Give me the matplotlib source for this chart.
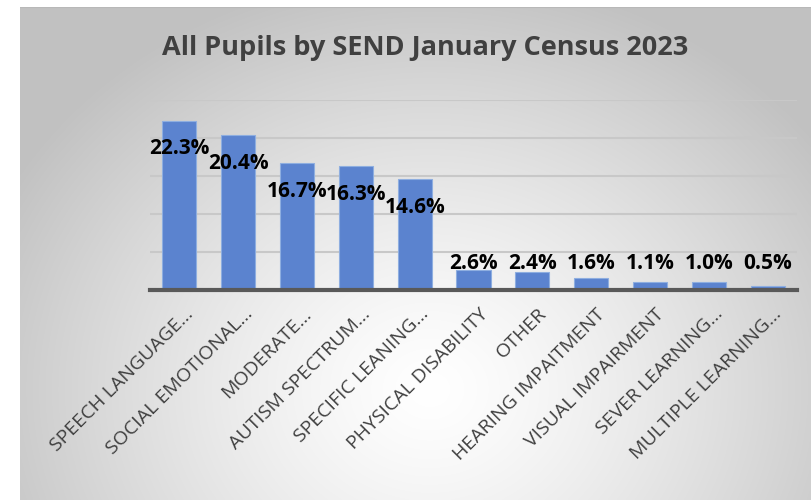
import numpy as np
import matplotlib.pyplot as plt
import matplotlib.transforms as mtransforms

categories = ["SPEECH LANGUAGE...", "SOCIAL EMOTIONAL...", "MODERATE...",
              "AUTISM SPECTRUM...", "SPECIFIC LEANING...", "PHYSICAL DISABILITY",
              "OTHER", "HEARING IMPAITMENT", "VISUAL IMPAIRMENT",
              "SEVER LEARNING...", "MULTIPLE LEARNING..."]
values = [22.3, 20.4, 16.7, 16.3, 14.6, 2.6, 2.4, 1.6, 1.1, 1.0, 0.5]

W, H = 811, 500
fig = plt.figure(figsize=(W / 100, H / 100), dpi=100)
fig.patch.set_facecolor("white")

# radial grey background of the chart frame
bg = fig.add_axes([20 / W, 0, 1 - 20 / W, 1 - 7 / H], zorder=0)
gx, gy = np.meshgrid(np.linspace(20, W, 400), np.linspace(7, H, 300))
r = np.sqrt((gx - 430) ** 2 + ((gy - 390) * 1.15) ** 2) / 480
r = np.clip(r, 0, 1)
shade = 1.0 - 0.24 * r ** 1.3
bg.imshow(np.dstack([shade] * 3), extent=[0, 1, 0, 1], aspect="auto",
          interpolation="bilinear")
bg.set_axis_off()
bg.plot([0, 1], [0.999, 0.999], color="#b8b8b8", lw=1.5, transform=bg.transAxes)

ax = fig.add_axes([150 / W, 1 - 290 / H, (797 - 150) / W, 190 / H], zorder=1)
ax.patch.set_alpha(0)
x = np.arange(len(categories))
ax.bar(x, values, width=0.58, color="#5b83cf", edgecolor="#8eaee0",
       linewidth=0.8, zorder=3)

ax.set_xlim(-0.5, len(categories) - 0.5)
ax.set_ylim(0, 25)
ax.set_yticks([0, 5, 10, 15, 20, 25])
ax.yaxis.grid(True, color="#c8c8c8", lw=1.5, zorder=0)
ax.tick_params(axis="y", length=0, labelleft=False)
ax.tick_params(axis="x", length=0, pad=5)
for s in ["top", "right", "left"]:
    ax.spines[s].set_visible(False)
ax.spines["bottom"].set_color("#595959")
ax.spines["bottom"].set_linewidth(3)
ax.spines["bottom"].set_zorder(4)

ax.set_xticks(x)
ax.set_xticklabels(categories, rotation=45, ha="right", va="top",
                   rotation_mode="anchor", fontsize=14, color="#404040",
                   family="Open Sans")
shift = mtransforms.ScaledTranslation(5 / 100, -8 / 100, fig.dpi_scale_trans)
for lbl in ax.get_xticklabels():
    lbl.set_transform(lbl.get_transform() + shift)

for xi, v in zip(x, values):
    ax.text(xi, max(v - 3.7, 3.45), f"{v:.1f}%", ha="center", va="center",
            fontsize=15, fontweight="bold", family="Open Sans", color="black",
            zorder=5)

fig.text(425 / W, 1 - 48 / H, "All Pupils by SEND January Census 2023",
         ha="center", va="center", fontsize=19.5, fontweight="bold",
         family="Open Sans", color="#404040", zorder=2)

fig.savefig("out.png", dpi=100)
